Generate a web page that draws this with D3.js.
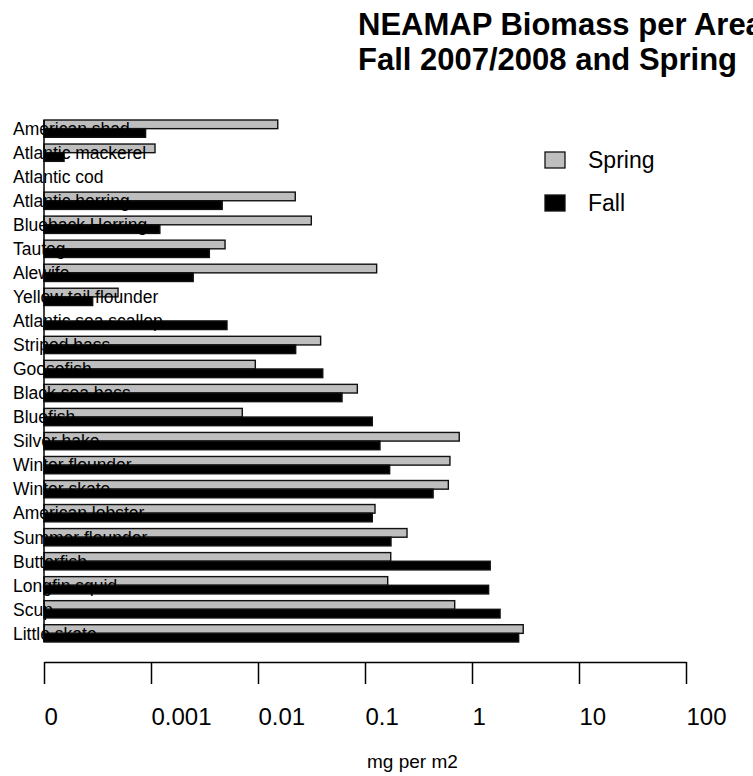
<!DOCTYPE html>
<html><head><meta charset="utf-8">
<script src="https://cdn.jsdelivr.net/npm/d3@7"></script>
<style>
body{margin:0;background:#fff}
svg text{font-family:"Liberation Sans",Arial,Helvetica,sans-serif;fill:#000}
</style>
</head><body>
<svg id="chart" width="753" height="776"></svg>
<script>
// ---- data (top to bottom) ----
const categories = ["American shad","Atlantic mackerel","Atlantic cod","Atlantic herring","Blueback Herring","Tautog","Alewife","Yellow tail flounder","Atlantic sea scallop","Striped bass","Goosefish","Black sea bass","Bluefish","Silver hake","Winter flounder","Winter skate","American lobster","Summer flounder","Butterfish","Longfin squid","Scup","Little skate"];
const spring = [0.0153,0.00109,0,0.0223,0.0315,0.00492,0.1285,0.000492,0,0.0385,0.00944,0.0848,0.00713,0.760,0.622,0.601,0.124,0.247,0.174,0.163,0.689,3.01];
const fall   = [0.00089,0.000154,0,0.00463,0.00121,0.00351,0.00248,0.000285,0.00513,0.0225,0.0403,0.0610,0.117,0.138,0.170,0.433,0.117,0.175,1.48,1.43,1.83,2.73];
const seriesNames = ["Spring","Fall"];
const seriesColors = ["#bebebe","#000000"];
const tickValues = [0.0001,0.001,0.01,0.1,1,10,100];
const tickLabels = ["0","0.001","0.01","0.1","1","10","100"];
const titleLines = ["NEAMAP Biomass per Area","Fall 2007/2008 and Spring"];
const xTitle = "mg per m2";

const svg = d3.select("#chart");
const baseVal = tickValues[0];
const x = d3.scaleLog().domain([tickValues[0], tickValues[tickValues.length-1]]).range([44,686]);
const y = d3.scaleBand().domain(categories).range([120,642]).paddingInner(0.28).paddingOuter(0);
const inner = d3.scaleBand().domain(seriesNames).range([0,y.bandwidth()]);

const rows = categories.map((c,i)=>({cat:c, vals:[{s:"Spring",v:spring[i]},{s:"Fall",v:fall[i]}]}));

const g = svg.append("g");
rows.forEach(r=>{
  r.vals.forEach((d,j)=>{
    if(!(d.v>0)) return;
    g.append("rect")
      .attr("x", x(baseVal))
      .attr("y", y(r.cat)+inner(d.s))
      .attr("width", x(d.v)-x(baseVal))
      .attr("height", inner.bandwidth())
      .attr("fill", seriesColors[j])
      .attr("stroke", "#111")
      .attr("stroke-width", 1.4);
  });
});

// baseline vertical line
svg.append("line")
  .attr("x1", x(baseVal)).attr("x2", x(baseVal))
  .attr("y1", y.range()[0]).attr("y2", y.range()[1])
  .attr("stroke","#000").attr("stroke-width",1.5);

// category labels
svg.append("g").selectAll("text").data(categories).join("text")
  .attr("x", 13)
  .attr("y", d=>y(d)+y.bandwidth()/2)
  .attr("dy","0.36em")
  .style("font-size","17.5px")
  .text(d=>d);

// x axis
const axis = d3.axisBottom(x).tickValues(tickValues).tickFormat((d,i)=>tickLabels[i]).tickSize(22).tickSizeOuter(0);
const ax = svg.append("g").attr("transform","translate(0,662)").call(axis);
ax.select(".domain").attr("stroke","#000").attr("stroke-width",1.5);
ax.selectAll(".tick line").attr("stroke","#000").attr("stroke-width",1.5);
ax.selectAll(".tick text")
  .attr("y",63).attr("dy",0)
  .attr("text-anchor","start")
  .style("font-family","'Liberation Sans',Arial,sans-serif")
  .style("font-size","24px");

svg.append("text").attr("x",367).attr("y",768)
  .style("font-size","19px").text(xTitle);

// legend
const leg = svg.append("g");
seriesNames.forEach((s,i)=>{
  const yy = 160 + i*43;
  leg.append("rect").attr("x",545).attr("y",yy-8).attr("width",20).attr("height",16)
    .attr("fill",seriesColors[i]).attr("stroke","#111").attr("stroke-width",1.3);
  leg.append("text").attr("x",588).attr("y",yy).attr("dy","0.36em")
    .style("font-size","23px").text(s);
});

// title
svg.append("g").selectAll("text").data(titleLines).join("text")
  .attr("x",358).attr("y",(d,i)=>35+i*35)
  .style("font-size","31px").style("font-weight","bold")
  .text(d=>d);
</script>
</body></html>
